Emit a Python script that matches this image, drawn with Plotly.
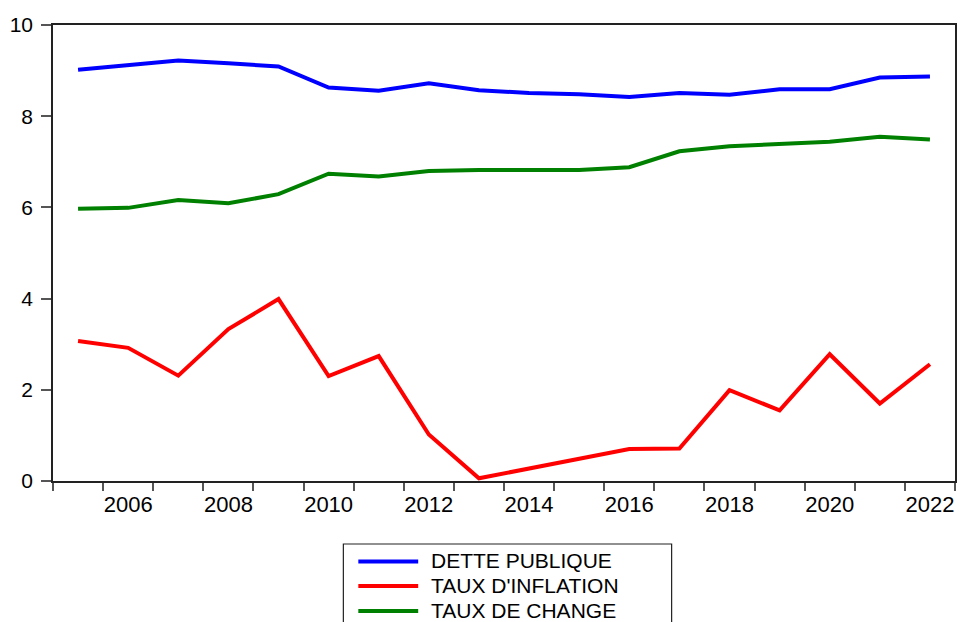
import plotly.graph_objects as go

years = list(range(2005, 2023))
dette_publique = [9.02, 9.11, 9.22, 9.16, 9.09, 8.63, 8.56, 8.72, 8.57, 8.51, 8.48, 8.42,
                  8.51, 8.47, 8.59, 8.59, 8.85, 8.87]
taux_inflation = [3.07, 2.92, 2.31, 3.33, 3.99, 2.30, 2.74, 1.02, 0.06, 0.28, 0.48, 0.70,
                  0.71, 1.99, 1.55, 2.78, 1.70, 2.56]
taux_change = [5.97, 5.99, 6.16, 6.09, 6.29, 6.74, 6.68, 6.80, 6.82, 6.82, 6.82, 6.88,
               7.23, 7.34, 7.38, 7.44, 7.55, 7.49]
series_names = ["DETTE PUBLIQUE", "TAUX D'INFLATION", "TAUX DE CHANGE"]
series_colors = ["#0000FF", "#FF0000", "#008000"]
x_label_years = list(range(2006, 2023, 2))
y_ticks = [0, 2, 4, 6, 8, 10]

# page has an 8px body margin; the visible width is clipped to the body width
OFF = 8
W, H = 966 - 2 * OFF, 622 - OFF
L, T = 53 - OFF, 25 - OFF
PW, PH = 904, 456
R = W - L - PW
B = H - T - PH


def px2x(px):
    return (px - OFF - L) / PW


def px2y(py):
    return (T + PH - (py - OFF)) / PH


fig = go.Figure()
for name, vals, col in zip(series_names, [dette_publique, taux_inflation, taux_change], series_colors):
    fig.add_trace(go.Scatter(x=years, y=vals, mode="lines", name=name,
                             line=dict(color=col, width=4), showlegend=False))

font_family = "Liberation Sans, Arial, sans-serif"

fig.update_layout(
    width=W, height=H,
    margin=dict(l=L, r=R, t=T, b=B, pad=0),
    paper_bgcolor="white", plot_bgcolor="white",
    font=dict(family=font_family, color="black", size=21),
    xaxis=dict(
        range=[years[0] - 0.5, years[-1] + 0.5],
        tickmode="array", tickvals=x_label_years,
        ticktext=[str(y) for y in x_label_years],
        ticks="", showgrid=False, zeroline=False,
        showline=True, linecolor="#222", linewidth=1.5, mirror=True,
        ticklabelstandoff=3,
        tickfont=dict(size=22),
        minor=dict(tickmode="array",
                   tickvals=[y - 0.5 for y in years] + [years[-1] + 0.5],
                   ticks="outside", ticklen=8, tickcolor="#555", tickwidth=1.5,
                   showgrid=False),
    ),
    yaxis=dict(
        range=[0, 10], tickmode="array", tickvals=y_ticks,
        ticks="outside", ticklen=10, tickcolor="#555", tickwidth=1.5,
        showgrid=False, zeroline=False,
        showline=True, linecolor="#222", linewidth=1.5, mirror=True,
        ticklabelstandoff=4,
        tickfont=dict(size=21),
    ),
)

# legend box (manual, EViews style)
shapes = [dict(type="rect", xref="paper", yref="paper",
               x0=px2x(344), x1=px2x(673), y0=px2y(640), y1=px2y(544),
               line=dict(color="#222", width=1.2), fillcolor="white", layer="above")]
annotations = []
row_y = [560.5, 585, 610]
for name, col, ry in zip(series_names, series_colors, row_y):
    shapes.append(dict(type="line", xref="paper", yref="paper",
                       x0=px2x(359), x1=px2x(419), y0=px2y(ry + 1), y1=px2y(ry + 1),
                       line=dict(color=col, width=4)))
    annotations.append(dict(xref="paper", yref="paper", x=px2x(430), y=px2y(ry),
                            xanchor="left", yanchor="middle", text=name, showarrow=False,
                            font=dict(size=21, color="black", family=font_family)))
fig.update_layout(shapes=shapes, annotations=annotations)

fig.write_html("out.html")
